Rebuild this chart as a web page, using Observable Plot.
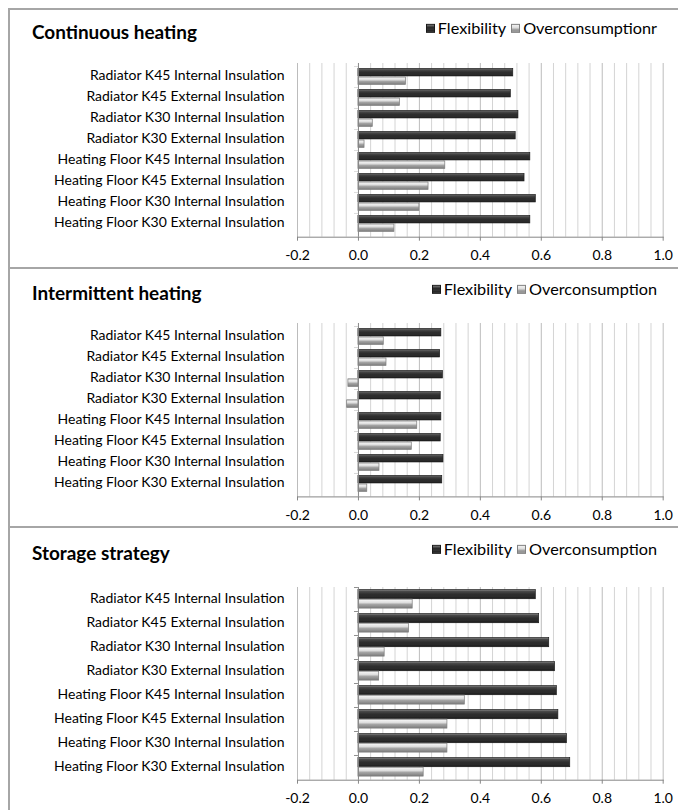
<!DOCTYPE html>
<html>
<head>
<meta charset="utf-8">
<script src="https://cdn.jsdelivr.net/npm/d3@7"></script>
<script src="https://cdn.jsdelivr.net/npm/@observablehq/plot@0.6"></script>
<style>
  html, body { margin: 0; padding: 0; background: #fff; }
  #page { position: relative; width: 678px; height: 810px; overflow: hidden; font-family: Lato, "Open Sans", sans-serif; color: #000; }
  .sep { position: absolute; left: 8px; right: 0; background: #a6a6a6; }
  .vline { position: absolute; left: 8px; width: 1.5px; top: 8px; bottom: 0; background: #a6a6a6; }
  .title { position: absolute; left: 32px; font-weight: bold; white-space: nowrap; line-height: 1; transform: translateY(-50%); }
  .legend { position: absolute; right: 21px; display: flex; align-items: center; white-space: nowrap; line-height: 1; transform: translateY(-50%); }
  .legend .sw { width: 9px; height: 9px; margin-right: 3px; box-sizing: border-box; }
  .legend .item { display: flex; align-items: center; margin-left: 5px; }
  .sw.dark { background: linear-gradient(#7a7a7a, #2a2a2a 35%, #333 70%, #111); border: 1px solid #1a1a1a; }
  .sw.light { background: linear-gradient(#f2f2f2, #dadada 45%, #a8a8a8 60%, #888); border: 1px solid #808080; }
  svg.chart { position: absolute; left: 0; overflow: visible; }
</style>
</head>
<body>
<div id="page"></div>
<script>
// ---------- data ----------
const categories = [
  "Radiator K45 Internal Insulation",
  "Radiator K45 External Insulation",
  "Radiator K30 Internal Insulation",
  "Radiator K30 External Insulation",
  "Heating Floor K45 Internal Insulation",
  "Heating Floor K45 External Insulation",
  "Heating Floor K30 Internal Insulation",
  "Heating Floor K30 External Insulation"
];
const continuousFlexibility      = [0.508, 0.500, 0.525, 0.516, 0.564, 0.545, 0.582, 0.564];
const continuousOverconsumption  = [0.156, 0.136, 0.047, 0.020, 0.285, 0.230, 0.200, 0.118];
const intermittentFlexibility    = [0.272, 0.268, 0.277, 0.270, 0.272, 0.270, 0.279, 0.275];
const intermittentOverconsumption= [0.083, 0.092, -0.033, -0.037, 0.193, 0.175, 0.069, 0.029];
const storageFlexibility         = [0.582, 0.593, 0.626, 0.645, 0.651, 0.656, 0.684, 0.695];
const storageOverconsumption     = [0.178, 0.166, 0.086, 0.068, 0.349, 0.292, 0.292, 0.214];
const panelTitles = ["Continuous heating", "Intermittent heating", "Storage strategy"];
const flexibilityLabel = "Flexibility";
const overconsumptionLabels = ["Overconsumptionr", "Overconsumption", "Overconsumption"];
const xTicks = [-0.2, 0.0, 0.2, 0.4, 0.6, 0.8, 1.0];

// ---------- font fitting ----------
const ctx = document.createElement("canvas").getContext("2d");
function fit(text, target, weight) {
  ctx.font = `${weight} 100px Lato`;
  return 100 * target / ctx.measureText(text).width;
}
const labelSize = fit("Heating Floor K30 External Insulation", 231, "normal");
const legendSize = fit("Overconsumptionr", 134, "normal");
const titleSize = fit("Continuous heating", 165, "bold");
const tickSize = Math.min(labelSize + 0.8, 14);

// ---------- layout ----------
const page = document.getElementById("page");
const layout = [
  {titleY: 32,  legendY: 28,  plotTop: 63.3,  plotBottom: 237.0},
  {titleY: 293, legendY: 289, plotTop: 323.3, plotBottom: 496.7},
  {titleY: 553, legendY: 549, plotTop: 587.3, plotBottom: 780.0}
];
function addDiv(cls, style, html) {
  const d = document.createElement("div");
  d.className = cls; Object.assign(d.style, style); if (html) d.innerHTML = html;
  page.appendChild(d); return d;
}
addDiv("sep", {top: "8px", height: "1.5px"});
addDiv("sep", {top: "267px", height: "2.2px"});
addDiv("sep", {top: "526px", height: "2.2px"});
addDiv("vline", {});

const flexSeries = [continuousFlexibility, intermittentFlexibility, storageFlexibility];
const overSeries = [continuousOverconsumption, intermittentOverconsumption, storageOverconsumption];

const minorGrid = d3.range(-0.2, 1.0001, 0.04).map(v => +v.toFixed(2)).filter(v => Math.abs(v) > 1e-9 && !xTicks.some(t => Math.abs(t - v) < 1e-9));
const majorGrid = xTicks.filter(v => Math.abs(v) > 1e-9);

layout.forEach((L, i) => {
  addDiv("title", {top: L.titleY + "px", fontSize: titleSize + "px"}, panelTitles[i]);
  addDiv("legend", {top: L.legendY + "px", fontSize: legendSize + "px"},
    `<span class="item"><span class="sw dark"></span>${flexibilityLabel}</span>` +
    `<span class="item"><span class="sw light"></span>${overconsumptionLabels[i]}</span>`);

  const mT = 8, mB = 30, mL = 297, mR = 15.3;
  const plotH = L.plotBottom - L.plotTop;
  const bw = plotH / categories.length;
  const flexRows = categories.map((c, k) => ({category: c, value: flexSeries[i][k]}));
  const overRows = categories.map((c, k) => ({category: c, value: overSeries[i][k]}));

  const chart = Plot.plot({
    width: 678,
    height: plotH + mT + mB,
    marginTop: mT, marginBottom: mB, marginLeft: mL, marginRight: mR,
    x: {domain: [-0.2, 1.0]},
    y: {domain: categories, paddingInner: 0, paddingOuter: 0},
    style: {fontFamily: "Lato, sans-serif", color: "#000", background: "transparent", overflow: "visible"},
    marks: [
      Plot.ruleX(minorGrid, {stroke: "#d4d4d4", strokeWidth: 1}),
      Plot.ruleX(majorGrid, {stroke: "#bcbcbc", strokeWidth: 1}),
      Plot.barX(flexRows, {
        x1: () => 0, x2: "value", y: "category",
        insetTop: bw * 0.11, insetBottom: bw * 0.51,
        fill: `url(#gdark${i})`, stroke: "#1c1c1c", strokeWidth: 0.7
      }),
      Plot.barX(overRows, {
        x1: () => 0, x2: "value", y: "category",
        insetTop: bw * 0.50, insetBottom: bw * 0.12,
        fill: `url(#glight${i})`, stroke: "#7c7c7c", strokeWidth: 0.7
      }),
      Plot.ruleX([0], {stroke: "#868686", strokeWidth: 1}),
      Plot.barX(categories, {
        x1: () => -0.013, x2: () => 0, y: d => d,
        insetTop: 0, insetBottom: bw - 1, fill: "#868686"
      }),
      Plot.frame({anchor: "bottom", stroke: "#868686"}),
      Plot.axisY({anchor: "left", tickSize: 0, tickPadding: 13, fontSize: labelSize, label: null, dy: -1}),
      Plot.axisX({anchor: "bottom", ticks: xTicks, tickSize: 4, tickPadding: 9, stroke: "#868686",
        tickFormat: d => d.toFixed(1), fontSize: tickSize, label: null})
    ]
  });
  chart.classList.add("chart");
  chart.style.top = (L.plotTop - mT) + "px";
  const defs = d3.select(chart).insert("defs", ":first-child");
  const gd = defs.append("linearGradient").attr("id", `gdark${i}`).attr("x1", 0).attr("y1", 0).attr("x2", 0).attr("y2", 1);
  [[0, "#8c8c8c"], [0.18, "#4a4a4a"], [0.5, "#2e2e2e"], [0.82, "#2a2a2a"], [1, "#0e0e0e"]]
    .forEach(([o, c]) => gd.append("stop").attr("offset", o).attr("stop-color", c));
  const gl = defs.append("linearGradient").attr("id", `glight${i}`).attr("x1", 0).attr("y1", 0).attr("x2", 0).attr("y2", 1);
  [[0, "#b0b0b0"], [0.15, "#f0f0f0"], [0.42, "#dcdcdc"], [0.56, "#a8a8a8"], [1, "#7c7c7c"]]
    .forEach(([o, c]) => gl.append("stop").attr("offset", o).attr("stop-color", c));
  page.appendChild(chart);
});
</script>
</body>
</html>
